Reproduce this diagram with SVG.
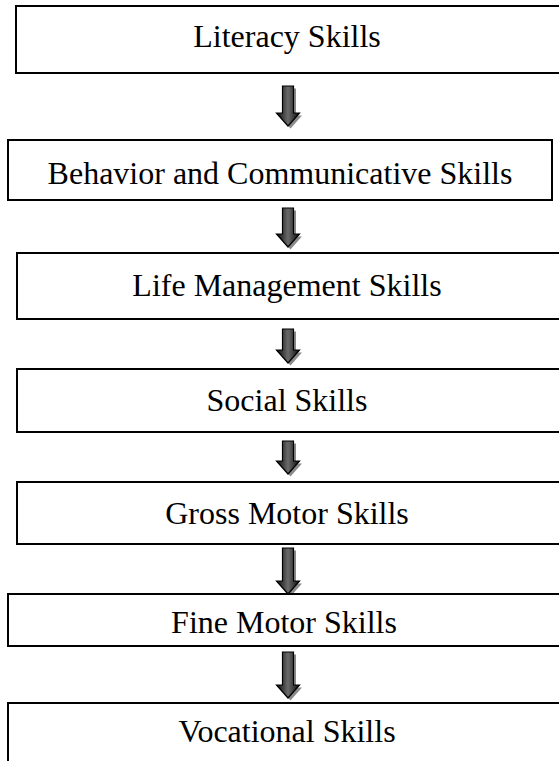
<svg xmlns="http://www.w3.org/2000/svg" width="559" height="761" viewBox="0 0 559 761">
<defs>
<linearGradient id="ag" x1="0" y1="0" x2="1" y2="0">
<stop offset="0" stop-color="#0a0a0a"/>
<stop offset="0.5" stop-color="#6a6a6a"/>
<stop offset="1" stop-color="#0a0a0a"/>
</linearGradient>
</defs>
<style>
.box{fill:#fff;stroke:#000;stroke-width:2}
.lbl{font-family:"Liberation Serif","Times New Roman",serif;font-size:32px;fill:#000;text-anchor:middle}
.sh{fill:#8a8a8a}
.ar{fill:url(#ag);stroke:#000;stroke-width:1.2}
</style>
<rect width="559" height="761" fill="#fff"/>
<g id="connectors">
<g id="a1"><path class="sh" transform="translate(2.5,2.5)" d="M282.5 86 H293.5 V113 H299.5 L288 126 L276.5 113 H282.5 Z"/><path class="ar" d="M282.5 86 H293.5 V113 H299.5 L288 126 L276.5 113 H282.5 Z"/></g>
<g id="a2"><path class="sh" transform="translate(2.5,2.5)" d="M282.5 208 H293.5 V234 H299.5 L288 247 L276.5 234 H282.5 Z"/><path class="ar" d="M282.5 208 H293.5 V234 H299.5 L288 247 L276.5 234 H282.5 Z"/></g>
<g id="a3"><path class="sh" transform="translate(2.5,2.5)" d="M282.5 329 H293.5 V350 H299.5 L288 363 L276.5 350 H282.5 Z"/><path class="ar" d="M282.5 329 H293.5 V350 H299.5 L288 363 L276.5 350 H282.5 Z"/></g>
<g id="a4"><path class="sh" transform="translate(2.5,2.5)" d="M282.5 441 H293.5 V461 H299.5 L288 474 L276.5 461 H282.5 Z"/><path class="ar" d="M282.5 441 H293.5 V461 H299.5 L288 474 L276.5 461 H282.5 Z"/></g>
<g id="a5"><path class="sh" transform="translate(2.5,2.5)" d="M282.5 548 H293.5 V581 H299.5 L288 594 L276.5 581 H282.5 Z"/><path class="ar" d="M282.5 548 H293.5 V581 H299.5 L288 594 L276.5 581 H282.5 Z"/></g>
<g id="a6"><path class="sh" transform="translate(2.5,2.5)" d="M282.5 652 H293.5 V685 H299.5 L288 698 L276.5 685 H282.5 Z"/><path class="ar" d="M282.5 652 H293.5 V685 H299.5 L288 698 L276.5 685 H282.5 Z"/></g>
</g>
<g id="n1"><rect class="box" x="16" y="6" width="560" height="67"/><text class="lbl" x="287" y="47">Literacy Skills</text></g>
<g id="n2"><rect class="box" x="8" y="140" width="544" height="60"/><text class="lbl" x="280" y="184">Behavior and Communicative Skills</text></g>
<g id="n3"><rect class="box" x="17" y="253" width="560" height="66"/><text class="lbl" x="287" y="296">Life Management Skills</text></g>
<g id="n4"><rect class="box" x="17" y="369" width="560" height="63"/><text class="lbl" x="287" y="411">Social Skills</text></g>
<g id="n5"><rect class="box" x="17" y="482" width="560" height="62"/><text class="lbl" x="287" y="524">Gross Motor Skills</text></g>
<g id="n6"><rect class="box" x="8" y="594" width="560" height="52"/><text class="lbl" x="284" y="633">Fine Motor Skills</text></g>
<g id="n7"><rect class="box" x="8" y="703" width="560" height="100"/><text class="lbl" x="287" y="742">Vocational Skills</text></g>
</svg>
